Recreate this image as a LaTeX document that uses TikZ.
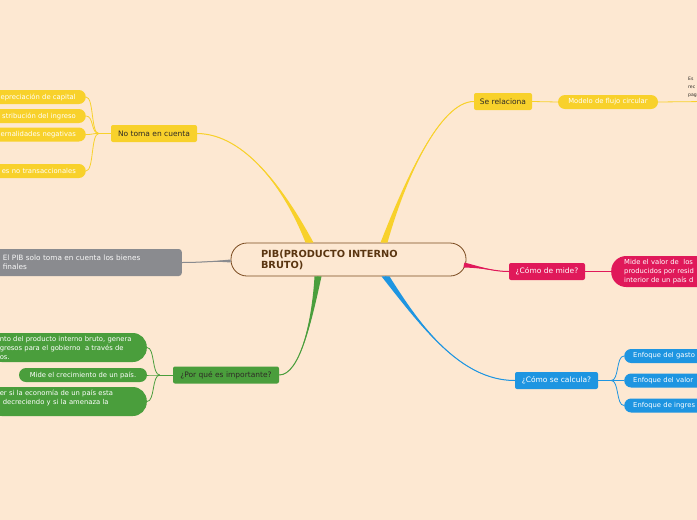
\documentclass[tikz,border=0pt]{standalone}
\usepackage{fontspec}
\setmainfont{DejaVu Sans}
\usepackage{tikz}
\usetikzlibrary{calc,positioning}

\definecolor{bgpeach}{HTML}{FDE8D2}
\definecolor{ylw}{HTML}{F8D12B}
\definecolor{brn}{HTML}{7A4A1F}
\definecolor{brntext}{HTML}{5A3510}
\definecolor{gry}{HTML}{8A8B8F}
\definecolor{grn}{HTML}{4A9E3C}
\definecolor{pnk}{HTML}{E0195A}
\definecolor{blu}{HTML}{1E95E1}
\definecolor{txtdark}{HTML}{2E2A25}

% tapered branch: colour, start left, start right, control 1, control 2, end
\newcommand{\branch}[6]{%
  \fill[#1] (#2) .. controls (#4) and (#5) .. (#6) .. controls (#5) and (#4) .. (#3) -- cycle;
  \draw[#1, line width=1pt] ($(#2)!0.5!(#3)$) .. controls (#4) and (#5) .. (#6);
}

\begin{document}
\begin{tikzpicture}[x=1pt, y=-1pt,
  box/.style={rectangle, rounded corners=2pt, minimum height=17pt, inner sep=0pt,
    font=\fontsize{7.5}{9}\selectfont},
  pill/.style={rectangle, rounded corners=7pt, minimum height=14pt, inner sep=0pt,
    text=white, font=\fontsize{6.8}{9}\selectfont},
  twig/.style={line width=0.8pt}]

  % Canvas
  \useasboundingbox (0,0) rectangle (697,520);
  \fill[bgpeach] (0,0) rectangle (697,520);
  \clip (0,0) rectangle (697,520);

  % Central topic
  \node[rectangle, rounded corners=16pt, draw=brn, line width=0.8pt, fill=bgpeach,
    minimum width=235pt, minimum height=33pt, inner xsep=30pt, inner ysep=0pt,
    text width=175pt, align=left, text=brntext,
    font=\bfseries\fontsize{9.8}{11}\selectfont] (pib) at (348.5,259.5)
    {PIB(PRODUCTO INTERNO\\BRUTO)};

  % Main topics
  \node[box, fill=ylw, minimum width=86pt, text=txtdark] (notoma) at (154,133.5) {No toma en cuenta};
  \node[box, fill=ylw, minimum width=58pt, text=txtdark] (serel) at (503,101.5) {Se relaciona};
  \node[box, fill=grn, minimum width=106pt, text=txtdark] (porque) at (226,375) {¿Por qué es importante?};
  \node[box, fill=pnk, minimum width=76pt, text=white] (comomide) at (547,271.5) {¿Cómo de mide?};
  \node[box, fill=blu, minimum width=83pt, text=white] (calcula) at (556.5,380.5) {¿Cómo se calcula?};
  \node[rectangle, rounded corners=3pt, fill=gry, anchor=east, minimum height=27pt,
    inner xsep=13pt, inner ysep=0pt, text width=166pt, align=left, text=white!94!gry,
    font=\fontsize{7.3}{8.5}\selectfont] (bienes) at (182,262.5)
    {El PIB solo toma en cuenta los bienes\\finales};

  % Branch start points on the central topic
  \coordinate (ya1) at ($(pib.north)+(-43,0)$);
  \coordinate (ya2) at ($(pib.north)+(-35,0)$);
  \coordinate (yb1) at ($(pib.north)+(32,0)$);
  \coordinate (yb2) at ($(pib.north)+(39,0)$);
  \coordinate (ga1) at ($(pib.south)+(-34,0)$);
  \coordinate (ga2) at ($(pib.south)+(-27,0)$);
  \coordinate (ba1) at ($(pib.south)+(33,0)$);
  \coordinate (ba2) at ($(pib.south)+(41,0)$);
  \coordinate (pa1) at ($(pib.east)+(-2,3)$);
  \coordinate (pa2) at ($(pib.east)+(-3,8)$);
  \coordinate (ra1) at ($(pib.west)+(0,0)$);
  \coordinate (ra2) at ($(pib.west)+(0,3)$);

  % Tapered branches
  \branch{ylw}{ya1}{ya2}{285,190}{245,134}{notoma.east}
  \branch{ylw}{yb1}{yb2}{405,180}{440,101.5}{serel.west}
  \branch{grn}{ga1}{ga2}{312,320}{300,375}{porque.east}
  \branch{blu}{ba1}{ba2}{420,325}{460,380.5}{calcula.west}
  \branch{pnk}{pa1}{pa2}{485,268}{495,271.5}{comomide.west}
  \branch{gry}{ra1}{ra2}{215,261}{200,262.5}{bienes.east}

  % No toma en cuenta
  \coordinate (nt) at ($(notoma.west)+(-12,0)$);
  \draw[ylw, twig] (notoma.west) -- (nt);
  \foreach \name/\y/\txt in {dep/97/epreciación de capital, dis/116/stribución del ingreso,
      ext/134.5/ernalidades negativas, tra/171/es no transaccionales} {
    \node[pill, fill=ylw, anchor=east, text width=110pt, align=right, inner xsep=10pt] (\name) at (86,\y) {\txt};
    \draw[ylw, twig] (nt) .. controls +(-8,0) and +(8,0) .. (\name.east);
  }

  % Se relaciona
  \node[pill, fill=ylw, minimum width=100pt] (flujo) at (608,102) {Modelo de flujo circular};
  \draw[ylw, twig] (serel.east) -- (flujo.west);
  \coordinate (flujoend) at (705,101.5);
  \draw[ylw, twig] (flujo.east) -- (flujoend);
  \node[anchor=north west, inner sep=0pt, align=left, text=txtdark,
    font=\fontsize{4.6}{8}\selectfont] (esrec) at (688,77) {Es\\rec\\pag};

  % Por que es importante
  \coordinate (pq) at ($(porque.west)+(-13,0)$);
  \draw[grn, twig] (porque.west) -- (pq);
  \node[pill, fill=grn, anchor=east, text width=135pt, align=left, inner xsep=12pt,
    rounded corners=14pt, minimum height=29pt] (imp1) at (147,347.5)
    {nto del producto interno bruto, genera\\gresos para el gobierno\ \ a través de\\os.};
  \node[pill, fill=grn, minimum width=128pt] (imp2) at (83,375) {Mide el crecimiento de un país.};
  \node[pill, fill=grn, anchor=east, text width=135pt, align=left, inner xsep=12pt,
    rounded corners=14pt, minimum height=29pt] (imp3) at (147,401.5)
    {er si la economía de un país esta\\\hspace{3pt}decreciendo y si la amenaza la\\\mbox{}};
  \foreach \name in {imp1, imp2, imp3} {
    \draw[grn, twig] (pq) .. controls +(-8,0) and +(8,0) .. (\name.east);
  }

  % Como se mide
  \node[pill, fill=pnk, anchor=west, text width=100pt, align=left, inner xsep=13pt,
    rounded corners=15pt, minimum height=31pt] (mideval) at (611,271.5)
    {Mide el valor de\ \ los\\producidos por resid\\interior de un país d};
  \draw[pnk, twig] (comomide.east) -- (mideval.west);

  % Como se calcula
  \coordinate (cc) at ($(calcula.east)+(13,0)$);
  \draw[blu, twig] (calcula.east) -- (cc);
  \foreach \name/\y/\txt in {gasto/356/Enfoque del gasto, valor/380.5/Enfoque del valor,
      ingreso/405.5/Enfoque de ingres} {
    \node[pill, fill=blu, anchor=west, text width=90pt, align=left, inner xsep=9pt] (\name) at (624,\y) {\txt};
    \draw[blu, twig] (cc) .. controls +(8,0) and +(-8,0) .. (\name.west);
  }
\end{tikzpicture}
\end{document}
